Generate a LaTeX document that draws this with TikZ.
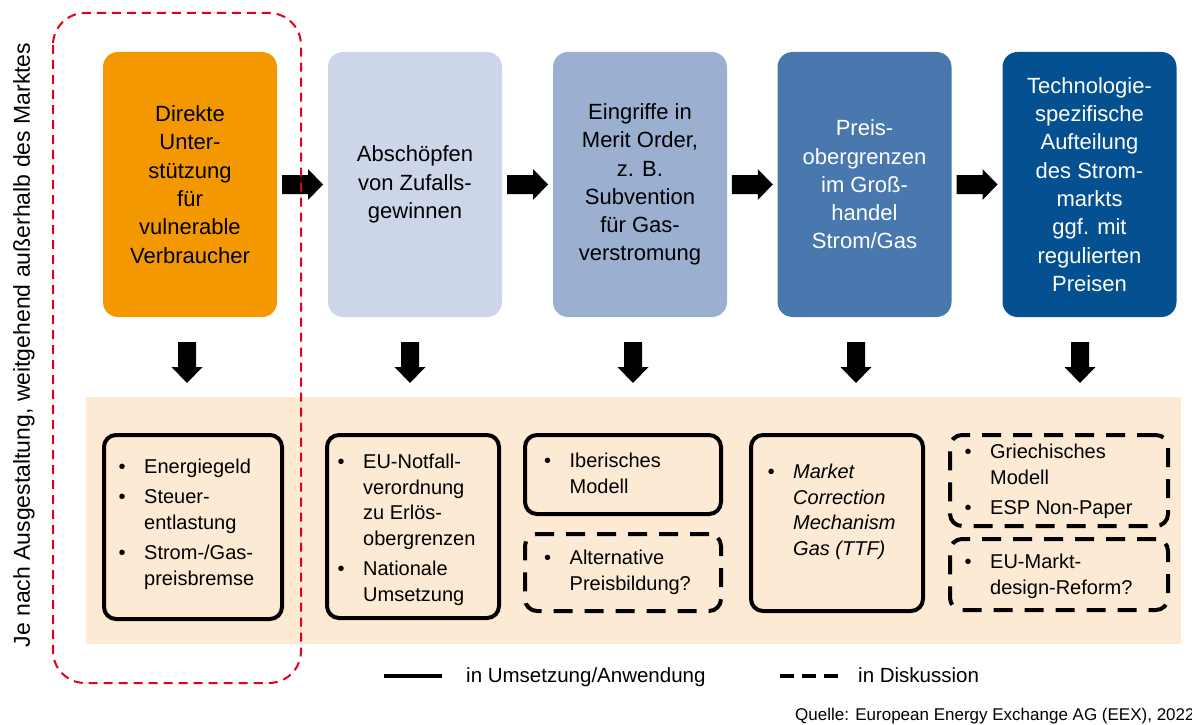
\documentclass[tikz,border=0pt]{standalone}
\usepackage{fontspec}
\setmainfont{Liberation Sans}
\usetikzlibrary{calc}

\definecolor{cOrange}{HTML}{F39800}
\definecolor{cPale}{HTML}{CDD5E8}
\definecolor{cMid}{HTML}{9BAFD0}
\definecolor{cSteel}{HTML}{4878AD}
\definecolor{cNavy}{HTML}{045091}
\definecolor{cBeige}{HTML}{FCEAD4}
\definecolor{cRed}{HTML}{E2001A}

% bullet list helpers
\newcommand\bul{\makebox[25.5pt][l]{\textbullet}}
\newcommand\ind{\hspace*{25.5pt}}
\newcommand\firstline{\rule{0pt}{16pt}}

\begin{document}
\begin{tikzpicture}[x=1pt,y=-1pt,
  stage/.style={rounded corners=15pt, minimum width=174pt, minimum height=265pt,
    inner sep=0pt, align=center, font=\fontsize{22}{28.3}\selectfont},
  listbox/.style={draw, line width=4pt, rounded corners=12pt, inner sep=0pt},
  openbox/.style={listbox, dash pattern=on 19pt off 12pt},
  listtext/.style={anchor=north west, inner sep=0pt, align=left,
    font=\fontsize{20}{25.8}\selectfont},
  legendtext/.style={anchor=base west, inner sep=0pt, font=\fontsize{20.5}{24}\selectfont},
]
\useasboundingbox (0,0) rectangle (1192,725);

% panel behind the measures
\fill[cBeige] (86,397) rectangle (1181,644);

% stages
\node[stage, fill=cOrange] (t1) at (190,184.5) {Direkte\\Unter-\\stützung\\für\\vulnerable\\Verbraucher};
\node[stage, fill=cPale] (t2) at (415,184.5) {Abschöpfen\\von Zufalls-\\gewinnen};
\node[stage, fill=cMid] (t3) at (640,184.5) {Eingriffe in\\Merit Order,\\z. B.\\Subvention\\für Gas-\\verstromung};
\node[stage, fill=cSteel, text=white] (t4) at (864.5,184.5) {Preis-\\obergrenzen\\im Groß-\\handel\\Strom/Gas};
\node[stage, fill=cNavy, text=white] (t5) at (1089.5,184.5) {Technologie-\\spezifische\\Aufteilung\\des Strom-\\markts\\ggf. mit\\regulierten\\Preisen};

% block arrows between stages
\foreach \a/\b in {t1/t2,t2/t3,t3/t4,t4/t5}{
  \coordinate (mid-\a) at ($(\a.east)!0.5!(\b.west)$);
  \fill (mid-\a) ++(-20.5,-9.5) -- ++(26,0) -- ++(0,-6) -- ++(15,15.5)
    -- ++(-15,15.5) -- ++(0,-6) -- ++(-26,0) -- cycle;
}

% block arrows down to the measures
\foreach \i/\cx in {1/187,2/410,3/633,4/856,5/1080}{
  \coordinate (d\i) at (\cx,342);
  \fill (d\i) ++(-9,0) -- ++(18,0) -- ++(0,25) -- ++(6.5,0) -- ++(-15.5,16)
    -- ++(-15.5,-16) -- ++(6.5,0) -- cycle;
}

% measure boxes
\node[listbox, minimum width=178pt, minimum height=184pt] (bA) at (193,527) {};
\node[listbox, minimum width=172pt, minimum height=183pt] (bB) at (413,526.5) {};
\node[listbox, minimum width=196pt, minimum height=79pt] (bC1) at (623,474.5) {};
\node[openbox, minimum width=196pt, minimum height=77pt] (bC2) at (623,572.5) {};
\node[listbox, minimum width=172pt, minimum height=176pt] (bD) at (837,523) {};
\node[openbox, minimum width=218pt, minimum height=91pt] (bE1) at (1059,480.5) {};
\node[openbox, minimum width=218pt, minimum height=71pt] (bE2) at (1059,574.5) {};

% measure texts
\node[listtext] (lA) at (118.5,457) {\firstline\bul Energiegeld\\[4.5pt]\bul Steuer-\\\ind entlastung\\[4.5pt]\bul Strom-/Gas-\\\ind preisbremse};
\node[listtext] (lB) at (337.5,452) {\firstline\bul EU-Notfall-\\\ind verordnung\\\ind zu Erlös-\\\ind obergrenzen\\[4.5pt]\bul Nationale\\\ind Umsetzung};
\node[listtext] (lC1) at (544,451) {\firstline\bul Iberisches\\\ind Modell};
\node[listtext] (lC2) at (544,548) {\firstline\bul Alternative\\\ind Preisbildung?};
\node[listtext, font=\fontsize{20}{25.8}\selectfont\itshape] (lD) at (767.5,462) {\firstline\bul Market\\\ind Correction\\\ind Mechanism\\\ind Gas (TTF)};
\node[listtext] (lE1) at (964.5,442) {\firstline\bul Griechisches\\\ind Modell\\[4.5pt]\bul ESP Non-Paper};
\node[listtext] (lE2) at (964.5,552) {\firstline\bul EU-Markt-\\\ind design-Reform?};

% side label
\node[rotate=90, anchor=base, inner sep=0pt, font=\fontsize{23}{27}\selectfont] (side) at (30,345)
  {Je nach Ausgestaltung, weitgehend außerhalb des Marktes};

% frame around measures outside the market
\draw[cRed, line width=2pt, dash pattern=on 9pt off 6pt, rounded corners=32pt] (53,13) rectangle (301,683);

% legend
\draw[line width=4pt] (384,676) -- (442,676);
\node[legendtext] (lg1) at (466,682) {in Umsetzung/Anwendung};
\draw[line width=4pt, dash pattern=on 14pt off 8pt] (780,676) -- (838,676);
\node[legendtext] (lg2) at (858,682) {in Diskussion};

% source line, running off the right edge
\begin{scope}
  \clip (0,0) rectangle (1192,725);
  \node[anchor=base west, inner sep=0pt, font=\fontsize{17}{20}\selectfont] (src) at (795,720)
    {Quelle: European Energy Exchange AG (EEX), 2022};
\end{scope}
\end{tikzpicture}
\end{document}
